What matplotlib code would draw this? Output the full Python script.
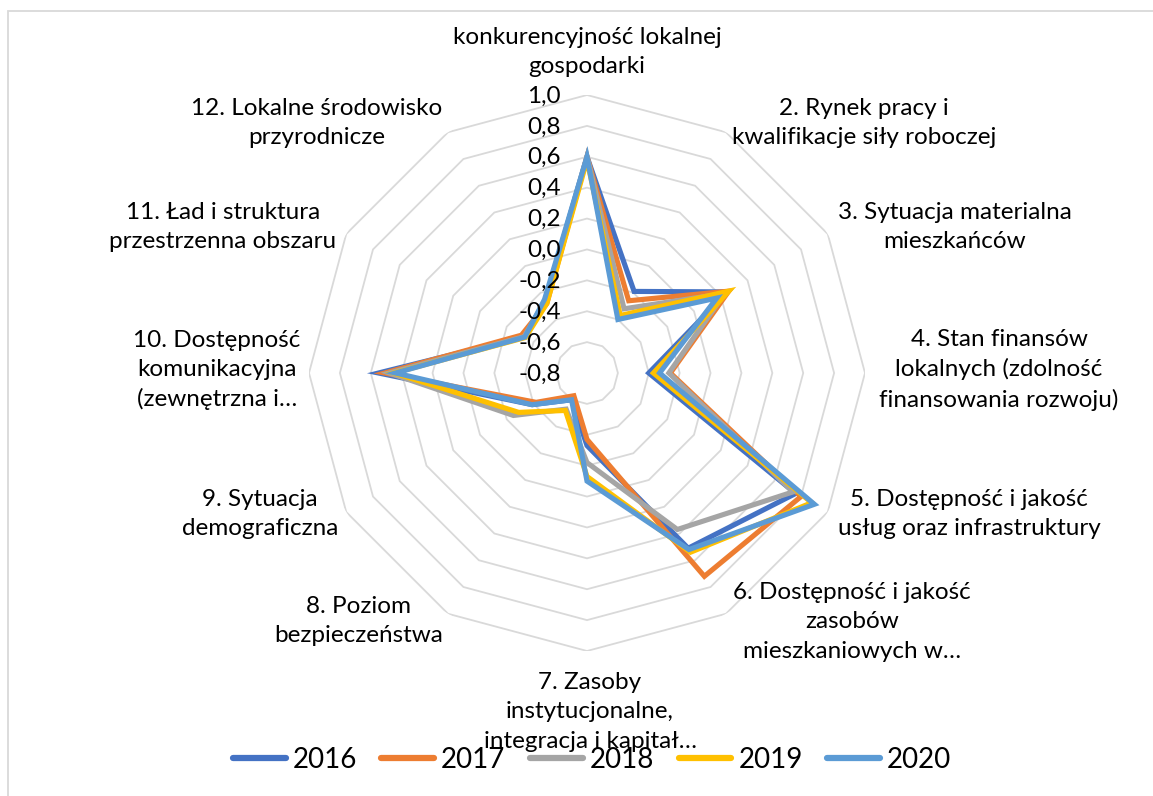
"""
Radar chart of 12 local development areas, yearly scores 2016-2020.
"""
import matplotlib
matplotlib.use("Agg")
import matplotlib.pyplot as plt
import numpy as np
from matplotlib.lines import Line2D
from matplotlib.patches import Rectangle
from matplotlib.transforms import offset_copy

plt.rcParams['font.family'] = ['Lato', 'DejaVu Sans']

categories = [
    "konkurencyjność lokalnej\ngospodarki",
    "2. Rynek pracy i\nkwalifikacje siły roboczej",
    "3. Sytuacja materialna\nmieszkańców",
    "4. Stan finansów\nlokalnych (zdolność\nfinansowania rozwoju)",
    "5. Dostępność i jakość\nusług oraz infrastruktury",
    "6. Dostępność i jakość\nzasobów\nmieszkaniowych w…",
    "7. Zasoby\ninstytucjonalne,\nintegracja i kapitał…",
    "8. Poziom\nbezpieczeństwa",
    "9. Sytuacja\ndemograficzna",
    "10. Dostępność\nkomunikacyjna\n(zewnętrzna i…",
    "11. Ład i struktura\nprzestrzenna obszaru",
    "12. Lokalne środowisko\nprzyrodnicze",
]
years = ["2016", "2017", "2018", "2019", "2020"]
values_2016 = [0.60, -0.19, 0.25, -0.40, 0.76, 0.51, -0.33, -0.60, -0.39, 0.55, -0.33, -0.26]
values_2017 = [0.60, -0.26, 0.26, -0.26, 0.80, 0.72, -0.37, -0.63, -0.42, 0.51, -0.31, -0.28]
values_2018 = [0.60, -0.32, 0.23, -0.27, 0.74, 0.37, -0.22, -0.53, -0.25, 0.48, -0.33, -0.26]
values_2019 = [0.58, -0.37, 0.26, -0.37, 0.88, 0.54, -0.13, -0.52, -0.29, 0.45, -0.34, -0.28]
values_2020 = [0.60, -0.40, 0.17, -0.33, 0.90, 0.52, -0.10, -0.60, -0.39, 0.44, -0.335, -0.25]
levels = [-0.8, -0.6, -0.4, -0.2, 0.0, 0.2, 0.4, 0.6, 0.8, 1.0]

colors = ["#4472C4", "#ED7D31", "#A5A5A5", "#FFC000", "#5B9BD5"]

# label block centres in pixels (x, y from top)
label_pos = [(587, 52), (864, 123), (955, 227), (999, 370), (969, 514),
             (852, 622), (590, 712), (359, 621), (260, 514), (217, 370),
             (223, 227), (317, 123)]

W, H = 1153, 796
fig = plt.figure(figsize=(W / 100, H / 100), dpi=100)

# chart area border (only top and left edges are inside the picture)
fig.add_artist(Rectangle((8 / W, -0.5), 2, 1 - 11 / H + 0.5, transform=fig.transFigure,
                         fill=False, edgecolor="#D9D9D9", lw=1.3))

cx, cy, R = 587, 373, 278
ax = fig.add_axes([(cx - R) / W, (H - cy - R) / H, 2 * R / W, 2 * R / H], projection="polar")
ax.set_theta_zero_location("N")
ax.set_theta_direction(-1)
ax.set_ylim(levels[0], levels[-1])
ax.grid(False)
ax.spines["polar"].set_visible(False)
ax.set_xticks([])
ax.set_yticks([])
ax.patch.set_alpha(0)

theta = np.linspace(0, 2 * np.pi, len(categories), endpoint=False)

for lv in levels[1:]:
    ax.fill(theta, [lv] * len(theta), facecolor="none", edgecolor="#D9D9D9", lw=1.3, zorder=1)

lab_tr = offset_copy(ax.transData, fig=fig, x=-26, y=-1, units="dots")
for lv in levels:
    ax.text(0, lv, f"{lv:.1f}".replace(".", ","), transform=lab_tr,
            ha="right", va="center", fontsize=17.5, color="black", zorder=5)

series = [values_2016, values_2017, values_2018, values_2019, values_2020]
for vals, col in zip(series, colors):
    ax.fill(theta, vals, facecolor="none", edgecolor=col, lw=3.7,
            joinstyle="miter", zorder=3)

for text, (x, y) in zip(categories, label_pos):
    fig.text(x / W, 1 - y / H, text, ha="center", va="center", fontsize=17.5,
             linespacing=1.48, color="black")

handles = [Line2D([], [], color=c, lw=4.5, solid_capstyle="round") for c in colors]
fig.legend(handles, years, loc="center", bbox_to_anchor=(592 / W, 1 - 760 / H), ncol=5,
           frameon=False, fontsize=20, handlelength=1.9, handletextpad=0.25,
           columnspacing=0.88)

fig.savefig("out.png", dpi=100)
